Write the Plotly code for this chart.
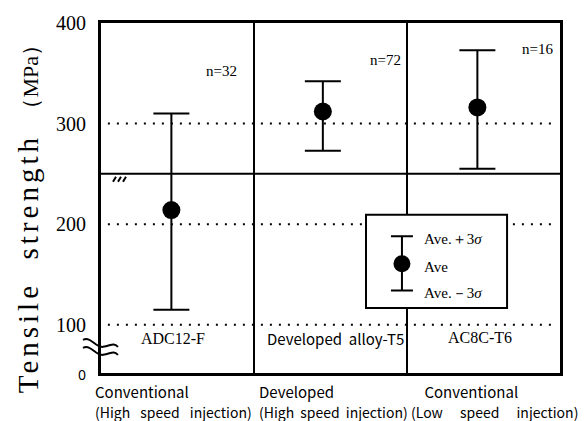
import plotly.graph_objects as go

# Tensile strength per alloy / process (MPa)
alloys = ["ADC12-F", "Developed  alloy-T5", "AC8C-T6"]
alloy_x = [0.46, 1.45, 2.46]
ave = [214, 312, 316]
ave_plus_3s = [310, 342, 373]
ave_minus_3s = [115, 273, 255]
sample_n = ["n=32", "n=72", "n=16"]
process_top = ["Conventional", "Developed", "Conventional"]
process_bottom = ["(High speed injection)", "(High speed injection)", "(Low speed injection)"]

# y axis is broken below 100: the floor of the frame carries the "0" label
y_floor = 52
y_tickvals = [y_floor, 100, 200, 300, 400]
y_ticktext = ['<span style="font-family:Noto Sans, sans-serif;font-size:14px">0</span>',
              "100", "200", "300", "400"]
y_break = 250

SERIF = "Liberation Serif, Times New Roman, serif"
GOTHIC = "Noto Sans CJK JP, sans-serif"
NB = "&nbsp;"

fig = go.Figure()

shapes = []
# dotted reference lines
for yv in [100, 200, 300]:
    shapes.append(dict(type="line", xref="paper", yref="y", x0=0.015, x1=0.985, y0=yv, y1=yv,
                       line=dict(color="black", width=2, dash="2px,7px"), layer="below"))
# category separators
for xv in [1, 2]:
    shapes.append(dict(type="line", xref="x", yref="paper", x0=xv, x1=xv, y0=0, y1=1,
                       line=dict(color="black", width=2), layer="below"))
# solid line at the scale break
shapes.append(dict(type="line", xref="paper", yref="y", x0=0, x1=1, y0=y_break, y1=y_break,
                   line=dict(color="black", width=2), layer="below"))
# hatch marks under the break line
shapes.append(dict(type="path", xref="paper", yref="y", xsizemode="pixel", ysizemode="pixel",
                   xanchor=0, yanchor=y_break,
                   path="M 12,-8 L 15,-3 M 17,-8 L 20,-3 M 22,-8 L 25,-3",
                   line=dict(color="black", width=2), layer="above"))
# wavy break symbol on the y axis
shapes.append(dict(type="path", xref="paper", yref="y", xsizemode="pixel", ysizemode="pixel",
                   xanchor=0, yanchor=77,
                   path="M -18,8 C -10,12 -6,0 2,1 S 12,6 17,1 M -18,0 C -10,4 -6,-8 2,-7 S 12,-2 17,-7",
                   line=dict(color="black", width=2), layer="above"))
# key box
shapes.append(dict(type="rect", xref="x", yref="y", x0=1.732, x1=2.654, y0=116.6, y1=209.4,
                   line=dict(color="black", width=2), fillcolor="white", layer="below"))
fig.update_layout(shapes=shapes)

# averages with ±3σ range
fig.add_trace(go.Scatter(
    x=alloy_x, y=ave, mode="markers",
    marker=dict(size=18, color="black"),
    error_y=dict(type="data", symmetric=False,
                 array=[u - a for u, a in zip(ave_plus_3s, ave)],
                 arrayminus=[a - l for a, l in zip(ave, ave_minus_3s)],
                 color="black", thickness=2, width=18),
    showlegend=False, hoverinfo="skip"))

# key glyph
key_x, key_y, key_up, key_dn = 1.967, 160.6, 27.3, 26.5
fig.add_trace(go.Scatter(
    x=[key_x], y=[key_y], mode="markers",
    marker=dict(size=17, color="black"),
    error_y=dict(type="data", symmetric=False, array=[key_up], arrayminus=[key_dn],
                 color="black", thickness=2, width=11),
    showlegend=False, hoverinfo="skip"))

ann = []
key_text = [("Ave.＋3<i>σ</i>", key_y + key_up), ("Ave", key_y), ("Ave.－3<i>σ</i>", key_y - key_dn)]
for t, yv in key_text:
    ann.append(dict(x=key_x, y=yv, xref="x", yref="y", text=t, showarrow=False,
                    xanchor="left", yanchor="middle", xshift=20, yshift=-3,
                    font=dict(family=SERIF, size=15, color="black")))

# n labels
n_pos = [(0.79, 352), (1.86, 363), (2.85, 374.6)]
for t, (xv, yv) in zip(sample_n, n_pos):
    ann.append(dict(x=xv, y=yv, xref="x", yref="y", text=t, showarrow=False,
                    xanchor="center", yanchor="middle",
                    font=dict(family=SERIF, size=15, color="black")))

# alloy names inside the frame
name_pos = [(0.47, 86), (1.53, 86), (2.48, 87)]
name_font = [SERIF, GOTHIC, SERIF]
name_size = [16, 15, 16]
for t, (xv, yv), f, s in zip(alloys, name_pos, name_font, name_size):
    ann.append(dict(x=xv, y=yv, xref="x", yref="y", text=t, showarrow=False,
                    xanchor="center", yanchor="middle",
                    font=dict(family=f, size=s, color="black")))

# process labels under the frame (two lines per category)
block_shift = [-8, 3, 2]
top_indent = [0, 0, 4]
word_space = [7, 3, 14]
for i in range(3):
    bottom = (f'<span style="font-size:14px;word-spacing:{word_space[i]}px">'
              f'{process_bottom[i]}</span>')
    txt = NB * top_indent[i] + process_top[i] + "<br>" + bottom
    ann.append(dict(x=i, y=-0.0815, xref="x", yref="paper", text=txt, showarrow=False,
                    xanchor="left", yanchor="middle", align="left", xshift=block_shift[i],
                    font=dict(family=GOTHIC, size=15, color="black")))

# y axis title
ann.append(dict(x=-0.16, y=0.455, xref="paper", yref="paper", textangle=-90, showarrow=False,
                xanchor="center", yanchor="middle",
                text='<span style="letter-spacing:4px">Tensile  strength</span>  '
                     '<span style="font-size:22px">（MPa）</span>',
                font=dict(family=SERIF, size=29, color="black")))
fig.update_layout(annotations=ann)

fig.update_xaxes(range=[0, 3], showgrid=False, zeroline=False, showticklabels=False,
                 showline=True, mirror=True, linecolor="black", linewidth=3, ticks="")
fig.update_yaxes(range=[y_floor, 400], tickmode="array", tickvals=y_tickvals, ticktext=y_ticktext,
                 showgrid=False, zeroline=False, showline=True, mirror=True,
                 linecolor="black", linewidth=3, ticks="", ticklabelstandoff=8,
                 tickfont=dict(family=SERIF, size=20, color="black"))

fig.update_layout(width=585, height=421, margin=dict(l=101, r=25, t=17, b=48),
                  paper_bgcolor="white", plot_bgcolor="white")

fig.write_html("out.html")
